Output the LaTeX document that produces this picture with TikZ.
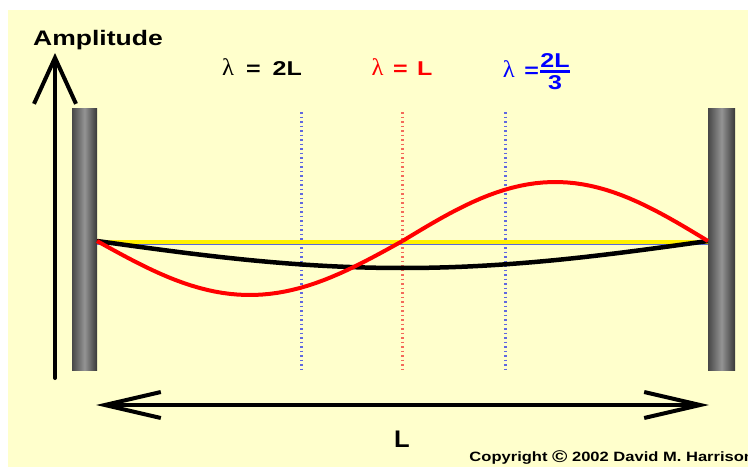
\documentclass[tikz,border=0pt]{standalone}
\usepackage{fontspec}
\setmainfont{Liberation Sans}
\newfontfamily\greekfont{Liberation Serif}
\usetikzlibrary{arrows.meta}
\definecolor{paper}{HTML}{FFFFCC}
\definecolor{stringyellow}{HTML}{FFF000}
\definecolor{stringblue}{HTML}{5A6AD8}
\definecolor{guideblue}{HTML}{6068E0}
\definecolor{guidered}{HTML}{F46A5A}
\newcommand{\lam}{\scalebox{0.82}[1]{\greekfont\mdseries\fontsize{24}{24}\selectfont λ}}
\begin{document}
\begin{tikzpicture}[x=1pt, y=-1pt, thick,
    txt/.style={font=\bfseries\fontsize{20}{22}\selectfont, xscale=1.25, inner sep=0pt, anchor=base},
    post/.style={left color=black!72, right color=black!78, middle color=black!42},
    guide/.style={line width=3pt, dash pattern=on 1.5pt off 3pt},
    barb/.style={line width=4pt, line cap=round, line join=round}]
  \useasboundingbox (0,0) rectangle (748,467);
  % 1. background
  \fill[paper] (8,10) rectangle (748,467);

  % 2. amplitude axis
  \coordinate (ampbot) at (55,378);
  \coordinate (amptop) at (55,53);
  \draw[barb, -{Straight Barb[length=46pt, width=42pt]}] (ampbot) -- (amptop);
  \node[txt, font=\bfseries\fontsize{21}{23}\selectfont, xscale=1.01] (amp) at (98,45) {Amplitude};

  % 3. the two posts
  \shade[post] (72,108) rectangle (97,370);
  \shade[post] (708,108) rectangle (735,370);
  \coordinate (endL) at (97,241);
  \coordinate (endR) at (708,241);

  % 4. guide lines at the wave extremes
  \draw[guide, guideblue] (301,112) -- (301,371);
  \draw[guide, guidered] (402,112) -- (402,371);
  \draw[guide, guideblue] (505,112) -- (505,371);

  % 5. string at rest and the standing waves
  \draw[stringyellow, line width=4pt] ([yshift=-1]endL) -- ([yshift=-1]endR);
  \draw[stringblue, line width=1.6pt] ([yshift=-3.5]endL) -- ([yshift=-3.5]endR);
  \draw[black, line width=4.5pt] plot[domain=0:1, samples=60] ({97+611*\x}, {241+27*sin(180*\x)});
  \draw[red, line width=4pt] plot[domain=0:0.5, samples=40] ({97+611*\x}, {241+54*sin(360*\x)});
  \draw[red, line width=4pt] plot[domain=0.5:1, samples=40] ({97+611*\x}, {241+59*sin(360*\x)});

  % 6. wavelength labels
  \node[txt] (lam1) at (262,75) {\lam\hspace{4pt} =\hspace{4pt} 2L};
  \node[txt, text=red] (lam2) at (402,75) {\lam\hspace{2pt} =\hspace{2pt} L};
  \node[txt, text=blue] (lam3) at (537,77)
    {\lam\hspace{2pt} =$\vcenter{\hbox{${\hbox{2L}\above 2.5pt\hbox{3}}$}}$};

  % 7. length of the string
  \coordinate (spanL) at (96,405);
  \coordinate (spanR) at (709,405);
  \draw[barb, {Straight Barb[length=56pt, width=26pt]}-{Straight Barb[length=56pt, width=26pt]}] (spanL) -- (spanR);
  \node[txt, font=\bfseries\fontsize{24}{26}\selectfont, xscale=0.85] (len) at (402,447) {L};

  % 8. copyright
  \node[txt, font=\bfseries\fontsize{13.5}{15}\selectfont, xscale=0.98, anchor=base west] (copy) at (469,461)
    {Copyright {\fontsize{17}{17}\selectfont\raisebox{-1pt}{©}} 2002 David M. Harrison};
\end{tikzpicture}
\end{document}
